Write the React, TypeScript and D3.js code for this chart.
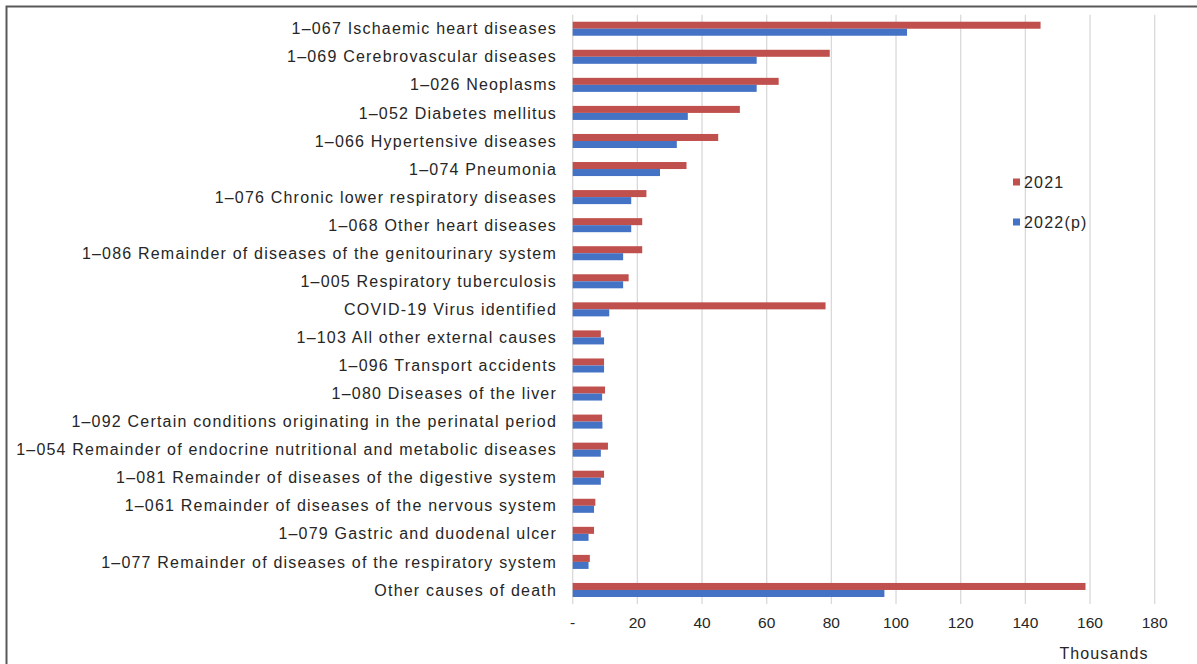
import React from "react";
import * as d3 from "d3";

// Leading causes of death, thousands
const causes: string[] = [
  "1–067 Ischaemic heart diseases",
  "1–069 Cerebrovascular diseases",
  "1–026 Neoplasms",
  "1–052 Diabetes mellitus",
  "1–066 Hypertensive diseases",
  "1–074 Pneumonia",
  "1–076 Chronic lower respiratory diseases",
  "1–068 Other heart diseases",
  "1–086 Remainder of diseases of the genitourinary system",
  "1–005 Respiratory tuberculosis",
  "COVID-19 Virus identified",
  "1–103 All other external causes",
  "1–096 Transport accidents",
  "1–080 Diseases of the liver",
  "1–092 Certain conditions originating in the perinatal period",
  "1–054 Remainder of endocrine nutritional and metabolic diseases",
  "1–081 Remainder of diseases of the digestive system",
  "1–061 Remainder of diseases of the nervous system",
  "1–079 Gastric and duodenal ulcer",
  "1–077 Remainder of diseases of the respiratory system",
  "Other causes of death",
];

const deaths2021: number[] = [
  144.7, 79.5, 63.7, 51.7, 45.0, 35.2, 22.8, 21.5, 21.5, 17.3, 78.2, 8.7, 9.7,
  10.0, 9.1, 10.9, 9.7, 7.0, 6.6, 5.3, 158.6,
];

const deaths2022p: number[] = [
  103.4, 56.9, 56.9, 35.6, 32.2, 27.0, 18.1, 18.1, 15.6, 15.6, 11.3, 9.7, 9.7,
  9.1, 9.2, 8.7, 8.7, 6.6, 4.9, 4.9, 96.4,
];

const seriesNames: string[] = ["2021", "2022(p)"];
const seriesColors: string[] = ["#C0504D", "#4472C4"];
const xTicks: number[] = [0, 20, 40, 60, 80, 100, 120, 140, 160, 180];

const W = 1197;
const H = 664;
const plot = { left: 572.7, right: 1154.7, top: 14.7, bottom: 604 };
const FONT = "'Liberation Sans', Arial, sans-serif";
const TEXT = "#262626";
const SPACING = 1.2;

export default function App() {
  const x = d3.scaleLinear().domain([0, 180]).range([plot.left, plot.right]);
  const y = d3
    .scaleBand<string>()
    .domain(causes)
    .range([plot.top, plot.bottom])
    .paddingInner(0.5)
    .paddingOuter(0.25);
  const inner = d3
    .scaleBand<string>()
    .domain(seriesNames)
    .range([0, y.bandwidth()]);

  const series = [deaths2021, deaths2022p];

  return (
    <svg
      width={W}
      height={H}
      style={{ position: "absolute", left: 0, top: 0, background: "#fff" }}
      fontFamily={FONT}
    >
      <rect
        x={6.5}
        y={6.5}
        width={W + 10}
        height={H + 10}
        fill="#fff"
        stroke="#595959"
        strokeWidth={2}
      />
      {/* vertical gridlines */}
      {xTicks.map((t) => (
        <line
          key={t}
          x1={x(t)}
          x2={x(t)}
          y1={plot.top}
          y2={plot.bottom}
          stroke="#d9d9d9"
          strokeWidth={1.3}
        />
      ))}
      {/* bars */}
      {causes.map((c, i) => (
        <g key={c}>
          {series.map((vals, s) => (
            <rect
              key={s}
              x={x(0)}
              y={(y(c) as number) + (inner(seriesNames[s]) as number)}
              width={x(vals[i]) - x(0)}
              height={inner.bandwidth()}
              fill={seriesColors[s]}
            />
          ))}
        </g>
      ))}
      {/* category labels */}
      {causes.map((c) => (
        <text
          key={c}
          x={557}
          y={(y(c) as number) + y.bandwidth() / 2}
          dy="0.35em"
          textAnchor="end"
          fontSize={16}
          letterSpacing={SPACING}
          fill={TEXT}
        >
          {c}
        </text>
      ))}
      {/* x tick labels */}
      {xTicks.map((t) => (
        <text
          key={t}
          x={x(t)}
          y={628}
          textAnchor="middle"
          fontSize={15.5}
          fill={TEXT}
        >
          {t === 0 ? "-" : d3.format("d")(t)}
        </text>
      ))}
      <text
        x={1104}
        y={659}
        textAnchor="middle"
        fontSize={16}
        letterSpacing={1.1}
        fill={TEXT}
      >
        Thousands
      </text>
      {/* legend */}
      {seriesNames.map((n, s) => (
        <g key={n} transform={`translate(1013, ${182 + s * 40})`}>
          <rect x={0} y={-3.5} width={7} height={7} fill={seriesColors[s]} />
          <text
            x={11}
            y={0}
            dy="0.35em"
            fontSize={16}
            letterSpacing={SPACING}
            fill={TEXT}
          >
            {n}
          </text>
        </g>
      ))}
    </svg>
  );
}
